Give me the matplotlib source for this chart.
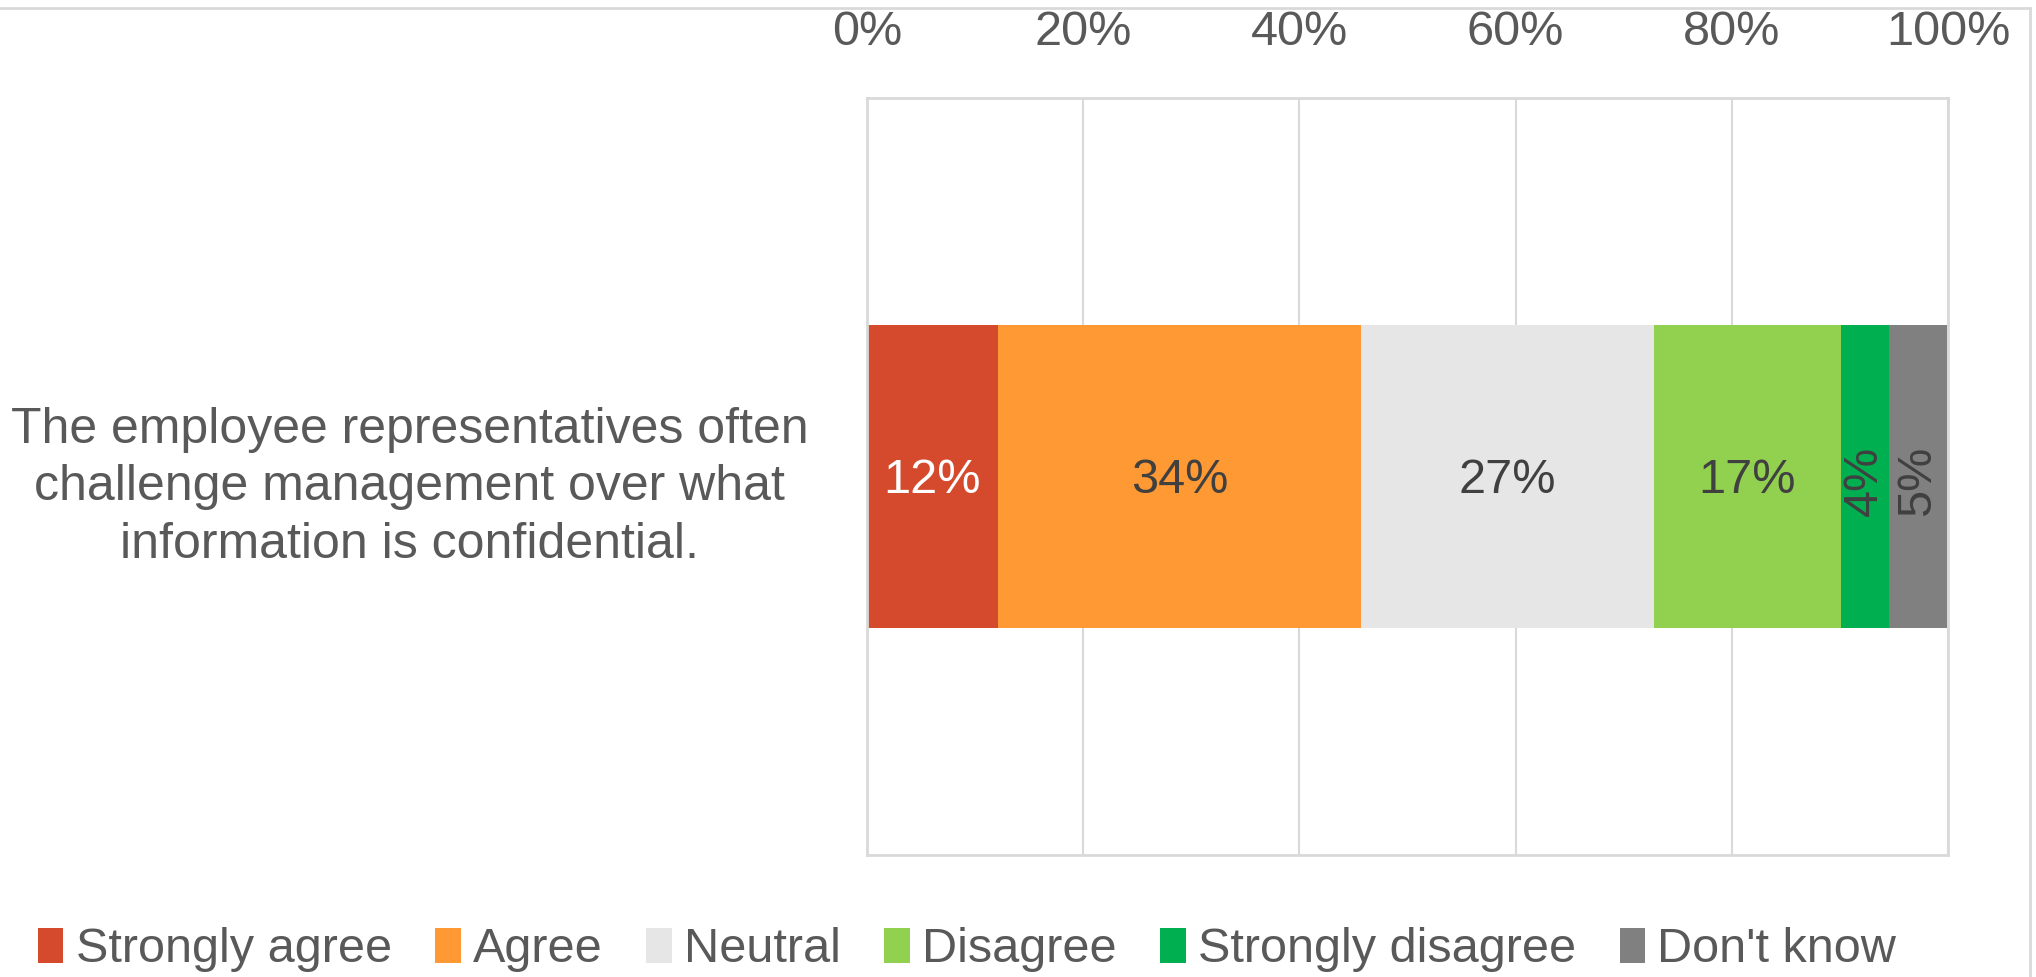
import matplotlib.pyplot as plt
from matplotlib.lines import Line2D

plt.rcParams['font.family'] = ['Liberation Sans', 'DejaVu Sans']

question = "The employee representatives often\nchallenge management over what\ninformation is confidential."
responses = ["Strongly agree", "Agree", "Neutral", "Disagree",
             "Strongly disagree", "Don't know"]
shares = [12.1, 33.6, 27.1, 17.3, 4.4, 5.4]
labels = ["12%", "34%", "27%", "17%", "4%", "5%"]
colors = ["#D54A2C", "#FF9933", "#E6E6E6", "#92D050", "#00B050", "#808080"]
label_colors = ["white", "#404040", "#404040", "#404040", "#404040", "#404040"]
rotations = [0, 0, 0, 0, 90, 90]
ticks = [0, 20, 40, 60, 80, 100]

W, H = 2036, 977
fig = plt.figure(figsize=(W / 100, H / 100), dpi=100)
ax = fig.add_axes([867 / W, 1 - 855 / H, (1948 - 867) / W, (855 - 98) / H])

text_col = "#595959"
grid_col = "#D9D9D9"

left = 0
for name, val, col, lab, lc, rot in zip(responses, shares, colors, labels,
                                        label_colors, rotations):
    bars = ax.barh([0], [val], left=left, height=0.4, color=col, label=name)
    txt = ax.bar_label(bars, labels=[lab], label_type='center', color=lc,
                       fontsize=35, rotation=rot)
    txt[0].xyann = (0, -3)
    left += val

ax.set_xlim(0, 100)
ax.set_ylim(-0.5, 0.5)
ax.set_xticks(ticks)
ax.set_xticklabels([f"{t}%" for t in ticks])
ax.xaxis.tick_top()
ax.tick_params(axis='x', length=0, pad=31, labelsize=35, labelcolor=text_col)
ax.set_yticks([0])
ax.set_yticklabels([question], multialignment='center', linespacing=1.32)
ax.tick_params(axis='y', length=0, pad=42, labelsize=36, labelcolor=text_col)

ax.grid(axis='x', color=grid_col, linewidth=1.5)
ax.set_axisbelow(True)
for side in ['top', 'bottom', 'left', 'right']:
    ax.spines[side].set_color(grid_col)
    ax.spines[side].set_linewidth(2)

ax.legend(loc='center', bbox_to_anchor=(967 / W, 1 - 950 / H),
          bbox_transform=fig.transFigure, ncol=6, frameon=False,
          fontsize=35, labelcolor=text_col, handlelength=0.52,
          handleheight=0.7, handletextpad=0.25, columnspacing=0.9)

# chart border (cropped Excel frame)
fig.add_artist(Line2D([0, 2030 / W], [1 - 8 / H, 1 - 8 / H],
                      transform=fig.transFigure, color=grid_col, lw=2))
fig.add_artist(Line2D([2030 / W, 2030 / W], [0, 1 - 8 / H],
                      transform=fig.transFigure, color=grid_col, lw=2))

fig.savefig("out.png", dpi=100)
